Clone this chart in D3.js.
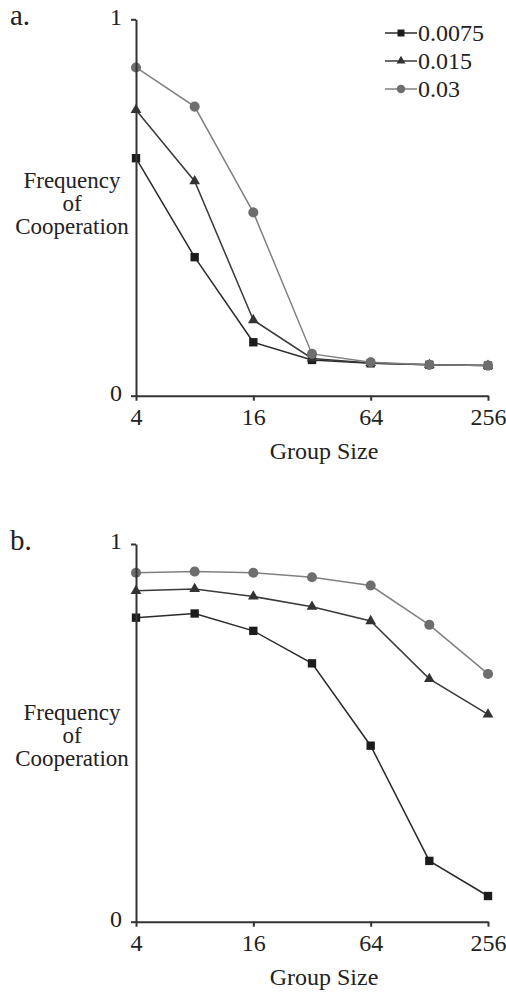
<!DOCTYPE html>
<html>
<head>
<meta charset="utf-8">
<script src="https://cdn.jsdelivr.net/npm/d3@7"></script>
<style>
  body { margin: 0; background: #fff; }
</style>
</head>
<body>
<script>
const width = 506, height = 995;
const serif = '"Liberation Serif"';

// group sizes (x) and frequency of cooperation for each series
const groupSizes = [4, 8, 16, 32, 64, 128, 256];
const seriesNames = ["0.0075", "0.015", "0.03"];

const panelA_0075 = [0.631, 0.368, 0.142, 0.095, 0.086, 0.082, 0.080];
const panelA_015  = [0.759, 0.570, 0.201, 0.099, 0.087, 0.082, 0.080];
const panelA_03   = [0.872, 0.768, 0.487, 0.111, 0.089, 0.082, 0.080];

const panelB_0075 = [0.805, 0.816, 0.770, 0.684, 0.466, 0.161, 0.068];
const panelB_015  = [0.876, 0.881, 0.861, 0.834, 0.796, 0.643, 0.549];
const panelB_03   = [0.924, 0.927, 0.924, 0.912, 0.890, 0.786, 0.656];

const xTicks = [4, 16, 64, 256];
const yTicks = [0, 1];
const yTitle = ["Frequency", "of", "Cooperation"];

const styles = [
  {shape: d3.symbolSquare, size: 70, fill: "#1c1c1c", stroke: "#2a2a2a"},
  {shape: d3.symbolTriangle, size: 50, fill: "#333", stroke: "#3a3a3a"},
  {shape: d3.symbolCircle, size: 80, fill: "#6e6e6e", stroke: "#808080"}
];

const svg = d3.select("body").append("svg").attr("width", width).attr("height", height);

function label(g, x, y, t, size, anchor) {
  return g.append("text").attr("x", x).attr("y", y).text(t)
    .attr("text-anchor", anchor || "start")
    .style("font-family", serif).style("font-size", size + "px").style("fill", "#222");
}

function drawPanel(letter, top, bottom, series, showLegend, labelY) {
  const x = d3.scaleLog().base(2).domain([4, 256]).range([136, 488]);
  const y = d3.scaleLinear().domain([0, 1]).range([bottom, top]);
  const g = svg.append("g");

  // series; the lighter ones end up on top where points coincide
  [0, 1, 2].forEach(i => {
    const pts = groupSizes.map((d, j) => [d, series[i][j]]);
    const line = d3.line().x(d => x(d[0])).y(d => y(d[1]));
    g.append("path").attr("d", line(pts))
      .attr("fill", "none").attr("stroke", styles[i].stroke).attr("stroke-width", 1.5);
    g.selectAll(null).data(pts).enter().append("path")
      .attr("d", d3.symbol().type(styles[i].shape).size(styles[i].size))
      .attr("transform", d => `translate(${x(d[0])},${y(d[1])})`)
      .attr("fill", styles[i].fill);
  });

  const xAxis = g.append("g").attr("transform", `translate(0,${bottom})`)
    .call(d3.axisBottom(x).tickValues(xTicks).tickFormat(d => d).tickSize(5).tickSizeOuter(0).tickPadding(7));
  const yAxis = g.append("g").attr("transform", `translate(136,0)`)
    .call(d3.axisLeft(y).tickValues(yTicks).tickFormat(d => d).tickSize(5).tickSizeOuter(0).tickPadding(9));
  [xAxis, yAxis].forEach(a => {
    a.attr("font-family", null);
    a.selectAll("path, line").attr("stroke", "#333").attr("stroke-width", 2);
    a.selectAll("text").style("font-family", serif).style("font-size", "24px").style("fill", "#222");
  });
  yAxis.selectAll("text").attr("dy", "0.2em");

  label(g, 10, top + 6, letter, 29);

  // y title as one text, three lines
  const yt = label(g, 72, labelY, null, 23, "middle");
  yt.selectAll("tspan").data(yTitle).enter().append("tspan")
    .attr("x", 72).attr("dy", (d, k) => k ? 23 : 0).text(d => d);

  label(g, 324, bottom + 63, "Group Size", 24, "middle");

  if (showLegend) {
    const legend = g.append("g").attr("transform", "translate(385, 33)");
    seriesNames.forEach((name, i) => {
      const row = legend.append("g").attr("transform", `translate(0, ${i * 28})`);
      row.append("line").attr("x1", 0).attr("x2", 32).attr("y1", 0).attr("y2", 0)
        .attr("stroke", styles[i].stroke).attr("stroke-width", 1.5);
      row.append("path").attr("d", d3.symbol().type(styles[i].shape).size(styles[i].size * 0.7))
        .attr("transform", "translate(16,0)").attr("fill", styles[i].fill);
      label(row, 33, 8, name, 24);
    });
  }
}

drawPanel("a.", 19.3, 395.7, [panelA_0075, panelA_015, panelA_03], true, 188);
drawPanel("b.", 544, 921.7, [panelB_0075, panelB_015, panelB_03], false, 720);
</script>
</body>
</html>
